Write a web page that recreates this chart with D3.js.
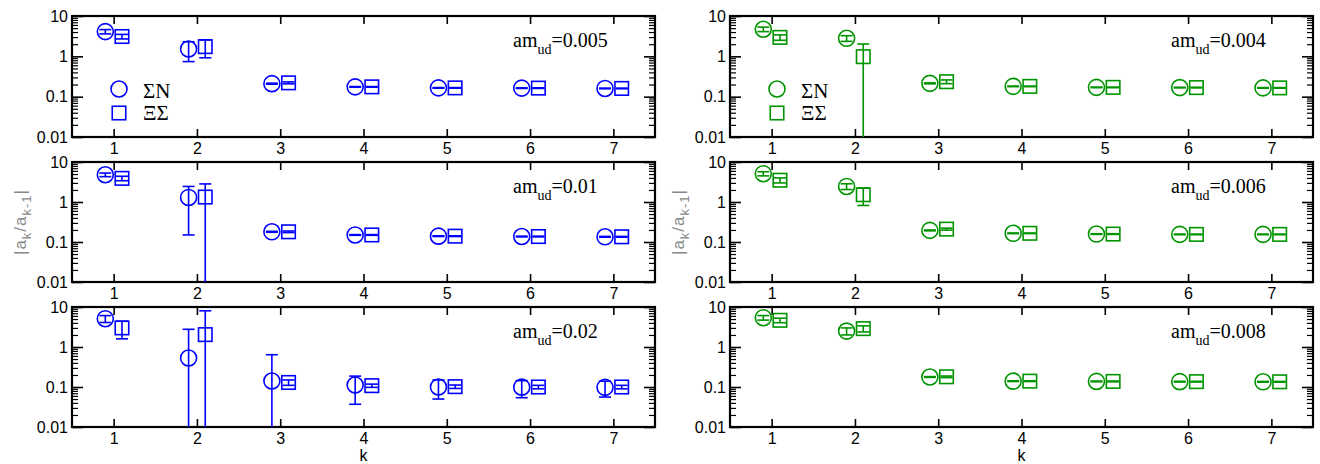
<!DOCTYPE html>
<html><head><meta charset="utf-8">
<script src="https://cdn.jsdelivr.net/npm/d3@7"></script>
<style>body{margin:0;background:#fff}</style>
</head><body>
<svg id="c" width="1320" height="464"></svg>
<script>
// ---- data ----
const kValues = [1, 2, 3, 4, 5, 6, 7];
const xTickLabels = ["1", "2", "3", "4", "5", "6", "7"];
const yTickValues = [0.01, 0.1, 1, 10];
const yTickLabels = ["0.01", "0.1", "1", "10"];
const masses = ["0.005", "0.01", "0.02", "0.004", "0.006", "0.008"];
const legendLabels = ["ΣN", "ΞΣ"];

// ΣN (circles) and ΞΣ (squares) per panel, with errors
const sn_005 = [4.1, 1.52, 0.21, 0.175, 0.165, 0.163, 0.16];
const sn_005_err = [0.5, 0.78, 0.006, 0.003, 0.003, 0.003, 0.003];
const xs_005 = [3.1, 1.74, 0.22, 0.175, 0.165, 0.163, 0.16];
const xs_005_err = [0.4, 0.82, 0.012, 0.003, 0.003, 0.003, 0.003];

const sn_01 = [4.8, 1.3, 0.18, 0.15, 0.14, 0.137, 0.135];
const sn_01_err = [0.5, 1.15, 0.005, 0.003, 0.003, 0.003, 0.003];
const xs_01 = [3.9, 1.33, 0.18, 0.15, 0.14, 0.137, 0.135];
const xs_01_err = [0.5, 1.5, 0.008, 0.003, 0.003, 0.003, 0.003];

const sn_02 = [5.1, 0.53, 0.141, 0.112, 0.10, 0.099, 0.098];
const sn_02_err = [1.0, 2.24, 0.5, 0.075, 0.05, 0.045, 0.042];
const xs_02 = [3.0, 2.04, 0.13, 0.108, 0.102, 0.1, 0.1];
const xs_02_err = [1.4, 6.0, 0.02, 0.01, 0.01, 0.01, 0.01];

const sn_004 = [4.7, 2.8, 0.214, 0.18, 0.17, 0.168, 0.165];
const sn_004_err = [0.6, 0.45, 0.006, 0.003, 0.003, 0.003, 0.003];
const xs_004 = [2.95, 0.98, 0.235, 0.18, 0.17, 0.168, 0.165];
const xs_004_err = [0.45, 1.04, 0.025, 0.003, 0.003, 0.003, 0.003];

const sn_006 = [5.1, 2.45, 0.195, 0.165, 0.158, 0.155, 0.155];
const sn_006_err = [0.6, 0.4, 0.005, 0.003, 0.003, 0.003, 0.003];
const xs_006 = [3.5, 1.52, 0.21, 0.165, 0.158, 0.155, 0.155];
const xs_006_err = [0.5, 0.7, 0.012, 0.003, 0.003, 0.003, 0.003];

const sn_008 = [5.4, 2.5, 0.178, 0.14, 0.138, 0.136, 0.135];
const sn_008_err = [0.7, 0.5, 0.004, 0.003, 0.003, 0.003, 0.003];
const xs_008 = [4.65, 2.88, 0.18, 0.14, 0.138, 0.136, 0.135];
const xs_008_err = [0.6, 0.5, 0.008, 0.003, 0.003, 0.003, 0.003];

const panelSN = [sn_005, sn_01, sn_02, sn_004, sn_006, sn_008];
const panelSNerr = [sn_005_err, sn_01_err, sn_02_err, sn_004_err, sn_006_err, sn_008_err];
const panelXS = [xs_005, xs_01, xs_02, xs_004, xs_006, xs_008];
const panelXSerr = [xs_005_err, xs_01_err, xs_02_err, xs_004_err, xs_006_err, xs_008_err];

// ---- layout ----
const cols = [{x0: 72, x1: 655}, {x0: 730, x1: 1313}];
const rows = [{y0: 16, y1: 137}, {y0: 162, y1: 282}, {y0: 307, y1: 427}];
const colors = ["#0000ff", "rgb(0,148,0)"];
const svg = d3.select("#c");
const minor = [];
[0.01, 0.1, 1].forEach(d => { for (let m = 2; m <= 9; m++) minor.push(+(m * d).toPrecision(3)); });

const R = 8, S = 13.5, CAP = 6, LW = 1.6;
const SANS = "Liberation Sans, Arial, sans-serif";
const SERIF = "Liberation Serif, Times New Roman, serif";

masses.forEach((mass, i) => {
  const c = Math.floor(i / 3), r = i % 3;
  const {x0, x1} = cols[c], {y0, y1} = rows[r];
  const color = colors[c];
  const x = d3.scaleLinear().domain([0.5, 7.5]).range([x0, x1]);
  const y = d3.scaleLog().domain([0.01, 10]).range([y1, y0]);
  const g = svg.append("g");

  const styleAxis = (sel, sw) => {
    sel.select(".domain").remove();
    sel.selectAll(".tick line").attr("stroke", "#000").attr("stroke-width", sw);
  };
  // x axes
  const xb = g.append("g").attr("transform", `translate(0,${y1})`)
    .call(d3.axisBottom(x).tickValues(kValues).tickFormat((d, j) => xTickLabels[j]).tickSize(-8).tickPadding(6));
  styleAxis(xb, 1.6);
  xb.selectAll("text").attr("font-family", SANS).attr("font-size", 16).attr("fill", "#000");
  const xt = g.append("g").attr("transform", `translate(0,${y0})`)
    .call(d3.axisTop(x).tickValues(kValues).tickFormat("").tickSize(-8));
  styleAxis(xt, 1.6);
  // y axes
  const yl = g.append("g").attr("transform", `translate(${x0},0)`)
    .call(d3.axisLeft(y).tickValues(yTickValues).tickFormat((d, j) => yTickLabels[j]).tickSize(-11).tickPadding(4));
  styleAxis(yl, 1.6);
  yl.selectAll("text").attr("font-family", SANS).attr("font-size", 16).attr("fill", "#000");
  const ylm = g.append("g").attr("transform", `translate(${x0},0)`)
    .call(d3.axisLeft(y).tickValues(minor).tickFormat("").tickSize(-6));
  styleAxis(ylm, 1.2);
  const yr = g.append("g").attr("transform", `translate(${x1},0)`)
    .call(d3.axisRight(y).tickValues(yTickValues).tickFormat("").tickSize(-11));
  styleAxis(yr, 1.6);
  const yrm = g.append("g").attr("transform", `translate(${x1},0)`)
    .call(d3.axisRight(y).tickValues(minor).tickFormat("").tickSize(-6));
  styleAxis(yrm, 1.2);

  // frame
  g.append("rect").attr("x", x0).attr("y", y0).attr("width", x1 - x0).attr("height", y1 - y0)
    .attr("fill", "none").attr("stroke", "#000").attr("stroke-width", 2.2);

  // data
  const plot = g.append("g").attr("fill", "none").attr("stroke", color).attr("stroke-width", LW);
  const clampY = v => Math.max(y0, Math.min(y1, v));
  const drawSeries = (vals, errs, off, shape) => {
    vals.forEach((v, j) => {
      const cx = x(kValues[j] + off), cy = y(v);
      const hi = v + errs[j], lo = v - errs[j];
      const yh = y(hi);
      const ylo = lo > 0 ? y(lo) : y1 + 10;
      plot.append("line").attr("x1", cx).attr("x2", cx).attr("y1", clampY(yh)).attr("y2", clampY(ylo));
      if (yh >= y0) plot.append("line").attr("x1", cx - CAP).attr("x2", cx + CAP).attr("y1", yh).attr("y2", yh);
      if (ylo <= y1) plot.append("line").attr("x1", cx - CAP).attr("x2", cx + CAP).attr("y1", ylo).attr("y2", ylo);
      if (shape === "circle") plot.append("circle").attr("cx", cx).attr("cy", cy).attr("r", R);
      else plot.append("rect").attr("x", cx - S / 2).attr("y", cy - S / 2).attr("width", S).attr("height", S);
    });
  };
  drawSeries(panelSN[i], panelSNerr[i], -0.1, "circle");
  drawSeries(panelXS[i], panelXSerr[i], 0.1, "square");

  // annotation
  const t = g.append("text").attr("x", x0 + 441).attr("y", y0 + 31)
    .attr("font-family", SERIF).attr("font-size", 20).attr("fill", "#000");
  t.append("tspan").text("am");
  t.append("tspan").attr("font-size", 14).attr("dy", 7).text("ud");
  t.append("tspan").attr("dy", -7).text("=" + mass);

  // legend
  if (r === 0) {
    const lg = g.append("g");
    lg.append("circle").attr("cx", x0 + 47).attr("cy", y0 + 73).attr("r", R)
      .attr("fill", "none").attr("stroke", color).attr("stroke-width", LW);
    lg.append("rect").attr("x", x0 + 47 - S / 2).attr("y", y0 + 97 - S / 2).attr("width", S).attr("height", S)
      .attr("fill", "none").attr("stroke", color).attr("stroke-width", LW);
    legendLabels.forEach((lab, j) => {
      lg.append("text").attr("x", x0 + 71).attr("y", y0 + 82 + j * 22)
        .attr("font-family", SERIF).attr("font-size", 21).attr("fill", "#000").text(lab);
    });
  }
  // x label
  if (r === 2) {
    g.append("text").attr("x", x(4)).attr("y", 461).attr("text-anchor", "middle")
      .attr("font-family", SANS).attr("font-size", 16).attr("fill", "#000").text("k");
  }
  // y label
  if (r === 1) {
    const yc = (y0 + y1) / 2;
    const yt = g.append("text").attr("transform", `translate(${x0 - 46},${yc}) rotate(-90)`)
      .attr("text-anchor", "middle").attr("font-family", SANS)
      .attr("font-size", 17).attr("fill", "#888").attr("letter-spacing", 1);
    yt.append("tspan").text("|a");
    yt.append("tspan").attr("font-size", 13).attr("dy", 5).text("k");
    yt.append("tspan").attr("dy", -5).text("/a");
    yt.append("tspan").attr("font-size", 13).attr("dy", 5).text("k-1");
    yt.append("tspan").attr("dy", -5).text("|");
  }
});
</script>
</body></html>
